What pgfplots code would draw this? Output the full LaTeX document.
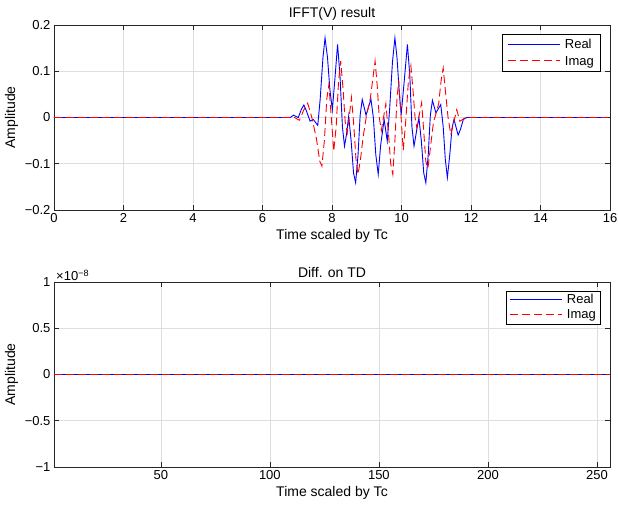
\documentclass[border=0pt]{standalone}
\usepackage{pgfplots}
\pgfplotsset{compat=1.18}
\usepackage{fontspec}
\setmainfont{Liberation Sans}
\definecolor{axgray}{RGB}{38,38,38}
\definecolor{gridgray}{RGB}{222,222,222}
\definecolor{mblue}{RGB}{0,0,255}
\definecolor{mred}{RGB}{255,0,0}
\tikzset{
  realline/.style={color=mblue, line width=0.9pt},
  imagline/.style={color=mred, line width=0.9pt, dash pattern=on 8pt off 4pt},
}
\newcommand{\realkey}{\textcolor{mblue}{\rule[0.3em]{52pt}{0.9pt}}}
\newcommand{\dsh}{\rule[0.3em]{8pt}{0.9pt}\hspace{4pt}}
\newcommand{\imagkey}{\textcolor{mred}{\dsh\dsh\dsh\dsh\rule[0.3em]{4pt}{0.9pt}}}
\pgfplotsset{
  mystyle/.style={
    scale only axis, width=556pt, height=185pt,
    axis line style={axgray, line width=0.6pt},
    tick style={axgray, line width=0.6pt},
    major tick length=5pt,
    tick align=inside,
    tick pos=both,
    grid=major,
    major grid style={gridgray, line width=0.6pt},
    every tick label/.append style={font=\fontsize{13}{15}\selectfont},
    label style={font=\fontsize{14}{16}\selectfont},
    title style={font=\fontsize{14}{16}\selectfont, inner sep=1pt, yshift=-3pt},
    /pgf/number format/assume math mode=true,
    legend style={at={(1,1)}, anchor=north east, xshift=-10pt, yshift=-9pt,
      draw=black, font=\fontsize{13}{15}\selectfont,
      inner xsep=4pt, inner ysep=3pt, row sep=2pt},
    legend cell align=left,
    legend image code/.code={},
  },
}
\begin{document}
\begin{tikzpicture}
\useasboundingbox (0,0) rectangle (618pt,504pt);
\begin{axis}[mystyle,
  at={(54pt,294pt)}, anchor=south west,
  xmin=0, xmax=16, ymin=-0.2, ymax=0.2,
  xtick={0,2,...,16},
  ytick={-0.2,-0.1,0,0.1,0.2},
  yticklabels={−0.2,−0.1,0,0.1,0.2},
  title={IFFT(V) result},
  xlabel={Time scaled by Tc}, ylabel={Amplitude},
]
\addplot[realline] coordinates {
(0,0) (6.80,0) (6.89,0.005) (7.03,0.0) (7.12,0.018) (7.19,0.027) (7.26,0.015) (7.37,-0.008) (7.46,-0.004)
(7.59,-0.017) (7.66,0.040) (7.74,0.130) (7.80,0.172) (7.87,0.130) (7.94,0.060) (8.01,0.017) (8.08,0.080) (8.16,0.158) (8.23,0.090) (8.30,-0.020) (8.36,-0.062) (8.42,-0.035) (8.48,0.003)
(8.55,-0.050) (8.62,-0.120) (8.68,-0.141) (8.75,-0.080) (8.81,0.005) (8.87,0.039) (8.98,0.005) (9.12,0.040) (9.19,0.000) (9.26,-0.080) (9.33,-0.123) (9.40,-0.060) (9.50,-0.004)
(9.59,-0.051) (9.66,0.020) (9.74,0.120) (9.81,0.172) (9.87,0.130) (9.94,0.050) (9.99,0.006) (10.08,0.080) (10.17,0.158) (10.24,0.090) (10.30,-0.020) (10.36,-0.062) (10.42,-0.035) (10.50,0.0)
(10.57,-0.050) (10.64,-0.120) (10.70,-0.141) (10.77,-0.080) (10.83,0.005) (10.89,0.037) (10.99,0.010) (11.13,0.028) (11.20,-0.020) (11.26,-0.090) (11.32,-0.130) (11.39,-0.080) (11.45,-0.025) (11.51,-0.004)
(11.63,-0.038) (11.70,-0.025) (11.78,-0.004) (11.88,0) (15.9375,0)
};
\addlegendentry{\realkey\hspace{5pt}Real}
\addplot[imagline] coordinates {
(0,0) (6.92,0) (7.06,-0.006) (7.18,0.015) (7.30,0.031) (7.42,0.0) (7.55,-0.045) (7.65,-0.095) (7.71,-0.105) (7.78,-0.050) (7.85,0.040) (7.91,0.071)
(7.98,0.000) (8.05,-0.073) (8.12,-0.020) (8.19,0.080) (8.25,0.122) (8.32,0.060) (8.38,-0.010) (8.44,-0.033) (8.56,0.043) (8.62,-0.010) (8.69,-0.090) (8.75,-0.123) (8.82,-0.090) (8.90,-0.040) (8.99,0.003)
(9.10,0.040) (9.24,0.122) (9.30,0.070) (9.36,0.000) (9.42,-0.028) (9.55,0.030) (9.62,-0.030) (9.69,-0.100) (9.75,-0.123) (9.81,-0.050) (9.87,0.040) (9.92,0.080)
(9.98,0.010) (10.05,-0.071) (10.12,-0.010) (10.20,0.080) (10.27,0.112) (10.33,0.060) (10.39,0.000) (10.44,-0.022) (10.58,0.032) (10.64,-0.030) (10.70,-0.095) (10.76,-0.110) (10.84,-0.060) (10.92,-0.010) (10.98,0.005)
(11.07,0.030) (11.14,0.080) (11.20,0.107) (11.26,0.060) (11.34,0.000) (11.42,-0.037) (11.59,0.017) (11.68,-0.008) (11.85,0)
(15.9375,0)
};
\addlegendentry{\imagkey\hspace{5pt}Imag}
\end{axis}
\begin{axis}[mystyle, name=bot,
  at={(54pt,37pt)}, anchor=south west,
  xmin=1, xmax=256, ymin=-1, ymax=1,
  xtick={50,100,150,200,250},
  ytick={-1,-0.5,0,0.5,1},
  yticklabels={−1,−0.5,0,0.5,1},
  title={Diff. on TD},
  xlabel={Time scaled by Tc}, ylabel={Amplitude},
]
\addplot[realline] coordinates {(1,0) (256,0)};
\addplot[imagline] coordinates {(1,0) (256,0)};
\end{axis}
\node[anchor=south west, font=\fontsize{13}{15}\selectfont, inner sep=1pt, xshift=1pt] at (bot.north west) {×10\textsuperscript{−8}};
\node[draw=black, fill=white, anchor=north east, inner xsep=4pt, inner ysep=3pt,
  font=\fontsize{13}{15}\selectfont, align=left] (lg)
  at ([xshift=-10pt,yshift=-9pt]bot.north east) {\hspace{57pt}Real\\\hspace{57pt}Imag};
\draw[realline] ([xshift=4pt,yshift=-8.6pt]lg.north west) -- ++(52pt,0pt);
\draw[imagline] ([xshift=4pt,yshift=-23.6pt]lg.north west) -- ++(52pt,0pt);
\end{tikzpicture}
\end{document}
